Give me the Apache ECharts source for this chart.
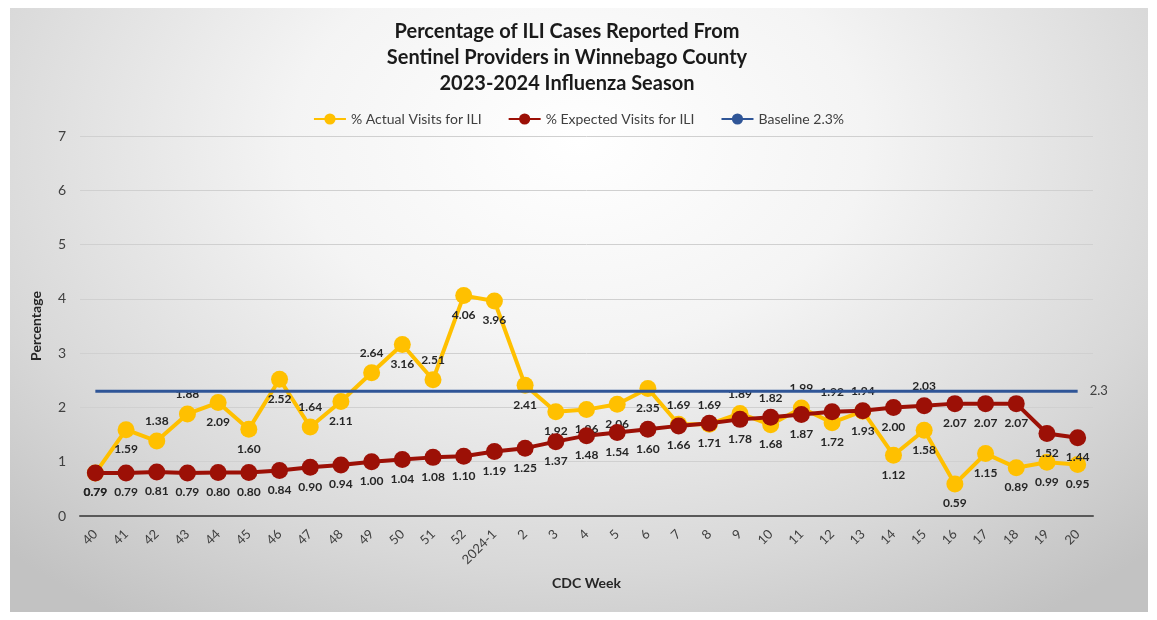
<!DOCTYPE html>
<html>
<head>
<meta charset="utf-8">
<script src="https://cdn.jsdelivr.net/npm/echarts@6/dist/echarts.min.js"></script>
<style>
  html, body { margin: 0; padding: 0; background: #ffffff; }
  #wrap { position: relative; width: 1157px; height: 620px; }
  #bg { position: absolute; left: 10px; top: 8px; width: 1138px; height: 604px;
        background: radial-gradient(ellipse 72% 95% at 50% 22%, #ffffff 0%, #f4f4f4 35%, #d8d8d8 75%, #c2c2c2 100%); }
  #chart { position: absolute; left: 0; top: 0; width: 1157px; height: 620px; }
</style>
</head>
<body>
<div id="wrap"><div id="bg"></div><div id="chart"></div></div>
<script>
const weeks = ['40','41','42','43','44','45','46','47','48','49','50','51','52','2024-1',
  '2','3','4','5','6','7','8','9','10','11','12','13','14','15','16','17','18','19','20'];
const actualVisits = [0.79,1.59,1.38,1.88,2.09,1.60,2.52,1.64,2.11,2.64,3.16,2.51,4.06,3.96,
  2.41,1.92,1.96,2.06,2.35,1.69,1.69,1.89,1.68,1.99,1.72,1.93,1.12,1.58,0.59,1.15,0.89,0.99,0.95];
const expectedVisits = [0.79,0.79,0.81,0.79,0.80,0.80,0.84,0.90,0.94,1.00,1.04,1.08,1.10,1.19,
  1.25,1.37,1.48,1.54,1.60,1.66,1.71,1.78,1.82,1.87,1.92,1.94,2.00,2.03,2.07,2.07,2.07,1.52,1.44];
const baselineValue = 2.3;
const yTicks = [0,1,2,3,4,5,6,7];

// label placement (weeks whose labels sit above the marker)
const actualLabelAbove = ['42','43','47','49','51','7','8','9','11'];
const expectedLabelAbove = ['10','12','13','15'];

const FONT = 'Lato, "Open Sans", sans-serif';
const labelStyle = { show: true, fontFamily: FONT, fontWeight: 'bold', fontSize: 12, color: '#262626',
  formatter: p => p.value.toFixed(2) };

function buildData(values, aboveList) {
  return values.map((v, i) => ({
    value: v,
    label: { position: aboveList.includes(weeks[i]) ? 'top' : 'bottom' }
  }));
}

const chart = echarts.init(document.getElementById('chart'), null, { renderer: 'canvas' });
chart.setOption({
  backgroundColor: 'transparent',
  animation: false,
  title: {
    text: 'Percentage of ILI Cases Reported From\nSentinel Providers in Winnebago County\n2023-2024 Influenza Season',
    left: 562, top: 14, textAlign: 'center',
    textStyle: { fontFamily: FONT, fontSize: 20, fontWeight: 'bold', color: '#1a1a1a', lineHeight: 26 }
  },
  legend: {
    top: 107, left: 'center', itemWidth: 32, itemHeight: 14, itemGap: 26,
    textStyle: { fontFamily: FONT, fontSize: 14, color: '#404040' },
    data: ['% Actual Visits for ILI', '% Expected Visits for ILI', 'Baseline 2.3%']
  },
  grid: { left: 80, right: 64, top: 136, bottom: 104, containLabel: false },
  xAxis: {
    type: 'category', data: weeks, boundaryGap: true,
    name: 'CDC Week', nameLocation: 'middle', nameGap: 60,
    nameTextStyle: { fontFamily: FONT, fontSize: 14, fontWeight: 'bold', color: '#262626' },
    axisLine: { lineStyle: { color: '#595959', width: 2 } },
    axisTick: { show: false },
    axisLabel: { rotate: 45, margin: 16, interval: 0, fontFamily: FONT, fontSize: 13, color: '#404040' }
  },
  yAxis: {
    type: 'value', min: yTicks[0], max: yTicks[yTicks.length - 1], interval: 1,
    name: 'Percentage', nameLocation: 'middle', nameGap: 37, nameRotate: 90,
    nameTextStyle: { fontFamily: FONT, fontSize: 14, fontWeight: 'bold', color: '#262626' },
    axisLine: { show: false }, axisTick: { show: false },
    axisLabel: { margin: 14, fontFamily: FONT, fontSize: 14, color: '#404040' },
    splitLine: { lineStyle: { color: '#d0d0d0', width: 1 } }
  },
  series: [
    {
      name: '% Actual Visits for ILI', type: 'line',
      data: buildData(actualVisits, actualLabelAbove),
      symbol: 'circle', symbolSize: 17,
      lineStyle: { color: '#FFC000', width: 4 },
      itemStyle: { color: '#FFC000' },
      label: labelStyle, z: 2
    },
    {
      name: '% Expected Visits for ILI', type: 'line',
      data: buildData(expectedVisits, expectedLabelAbove),
      symbol: 'circle', symbolSize: 17,
      lineStyle: { color: '#9C1006', width: 4 },
      itemStyle: { color: '#9C1006' },
      label: labelStyle, z: 3
    },
    {
      name: 'Baseline 2.3%', type: 'line',
      data: weeks.map(() => baselineValue),
      symbol: 'none', showSymbol: false,
      lineStyle: { color: '#2F5597', width: 3 },
      itemStyle: { color: '#2F5597' },
      endLabel: { show: true, formatter: String(baselineValue), distance: 12,
        fontFamily: FONT, fontSize: 13, color: '#404040' },
      z: 4
    }
  ]
});
</script>
</body>
</html>
